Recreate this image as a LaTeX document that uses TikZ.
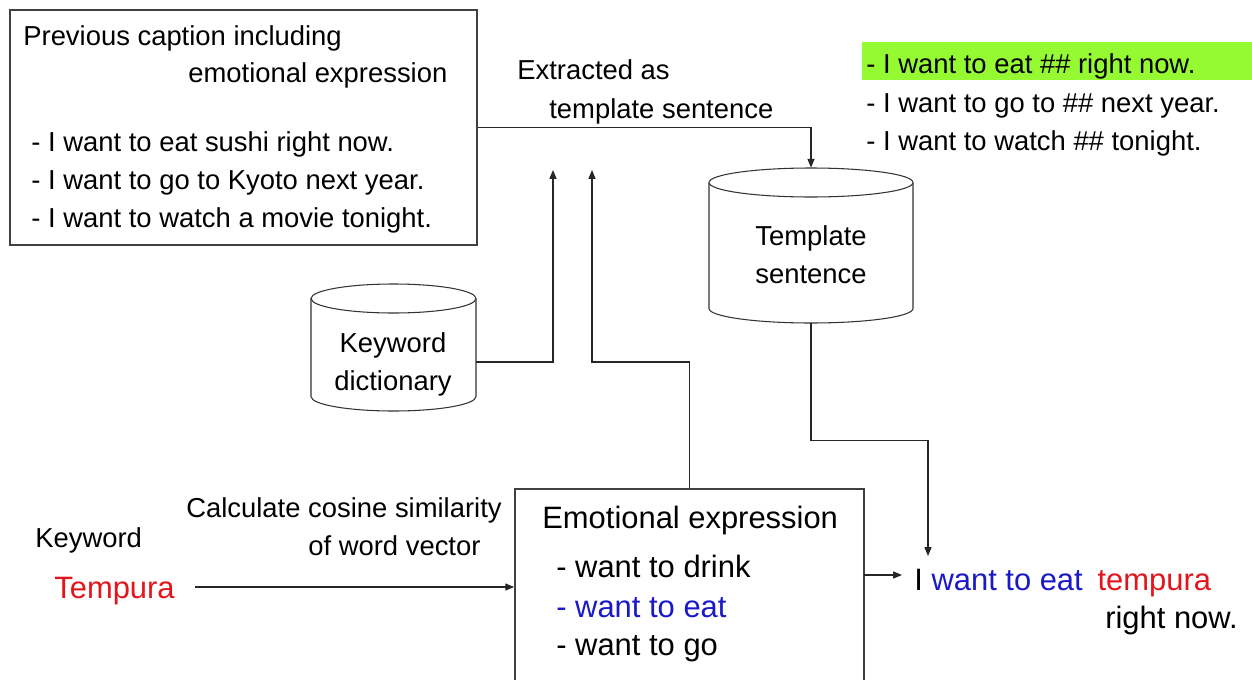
\documentclass[tikz,border=0pt]{standalone}
\usepackage{fontspec}
\setmainfont{Liberation Sans}
\usetikzlibrary{arrows.meta, fit}

\definecolor{kwred}{RGB}{228,20,28}
\definecolor{exblue}{RGB}{25,25,200}
\definecolor{hlgreen}{RGB}{150,250,50}

\tikzset{
  txt/.style={font=\fontsize{15.6}{18}\selectfont, inner sep=0pt, anchor=base west},
  bigtxt/.style={font=\fontsize{17.6}{21}\selectfont, inner sep=0pt, anchor=base west},
  frame/.style={draw=black!75, line width=1pt, inner sep=0pt},
  db/.style={draw=black!80, line width=0.6pt, fill=white},
  link/.style={draw=black!85, line width=0.6pt},
  flow/.style={link, -{Triangle[length=5pt, width=4pt]}}
}

% database cylinder: left, right, top, bottom, cap radius
\newcommand{\dbcyl}[5]{%
  \draw[db] (#1,#3+#5) -- (#1,#4-#5)
    arc[start angle=180, end angle=0, x radius={(#2-#1)/2}, y radius=#5] -- (#2,#3+#5);
  \draw[db] ({(#1+#2)/2},#3+#5) ellipse [x radius={(#2-#1)/2}, y radius=#5];
}

\begin{document}
\begin{tikzpicture}[x=0.02cm, y=-0.02cm]
\useasboundingbox (0,0) rectangle (1252,680);

% previous captions
\node[frame, fit={(10,10) (477,245)}] (prev) {};
\node[txt] (prevhead) at (23,45) {Previous caption including};
\node[txt] (prevsub) at (188,82) {emotional expression};
\foreach \y/\s [count=\i] in {151/{eat sushi right now.}, 189/{go to Kyoto next year.}, 227/{watch a movie tonight.}}
  \node[txt] (cap\i) at (31,\y) {- I want to \s};

% extracted templates
\fill[hlgreen] (862,42) rectangle (1252,80);
\foreach \y/\s [count=\i] in {73/{eat \#\# right now.}, 112/{go to \#\# next year.}, 150/{watch \#\# tonight.}}
  \node[txt] (tpl\i) at (866,\y) {- I want to \s};

\node[txt] (extA) at (517,79) {Extracted as};
\node[txt] (extB) at (549,118) {template sentence};

% databases
\dbcyl{709}{913}{168}{323}{14.5}
\node[fit={(709,168) (913,323)}, inner sep=0pt] (tmpl) {};
\node[txt, anchor=base] (tmplA) at (811,245) {Template};
\node[txt, anchor=base] (tmplB) at (811,283) {sentence};

\dbcyl{311}{476}{284}{411}{14.5}
\node[fit={(311,284) (476,411)}, inner sep=0pt] (dict) {};
\node[txt, anchor=base] (dictA) at (393,352) {Keyword};
\node[txt, anchor=base] (dictB) at (393,390) {dictionary};

% emotional expressions
\node[frame, fit={(515,489) (864,700)}] (emo) {};
\node[bigtxt] (emohead) at (542,528) {Emotional expression};
\node[bigtxt] (emo1) at (556,577) {- want to drink};
\node[bigtxt, text=exblue] (emo2) at (556,617) {- want to eat};
\node[bigtxt] (emo3) at (556,655) {- want to go};

% keyword input
\node[txt] (kwlabel) at (35,547) {Keyword};
\node[bigtxt, text=kwred] (kw) at (54,598) {Tempura};
\node[txt] (calcA) at (186,517) {Calculate cosine similarity};
\node[txt] (calcB) at (308,555) {of word vector};

% result
\node[bigtxt] (res) at (914,590) {I \textcolor{exblue}{want to eat}\hspace{0.2em} \textcolor{kwred}{tempura}};
\node[bigtxt, anchor=base east] (resend) at (1238,628) {right now.};

% connectors
\coordinate (dictout) at (476,362);
\coordinate (up1) at (553,170);
\coordinate (bend2) at (592,362);
\coordinate (up2) at (592,170);
\coordinate (kwout) at (195,587);
\coordinate (emoout) at (864,575);
\coordinate (resin) at (902,575);
\coordinate (restop) at (928,556);

\draw[flow] (prev.east) -| (tmpl.north);
\draw[flow] (dictout) -| (up1);
\draw[flow] (emo.north) |- (bend2) -- (up2);
\draw[flow] (tmpl.south) -- ++(0,117) -| (restop);
\draw[flow] (kwout) -- (kwout -| emo.west);
\draw[flow] (emoout) -- (resin);
\end{tikzpicture}
\end{document}
